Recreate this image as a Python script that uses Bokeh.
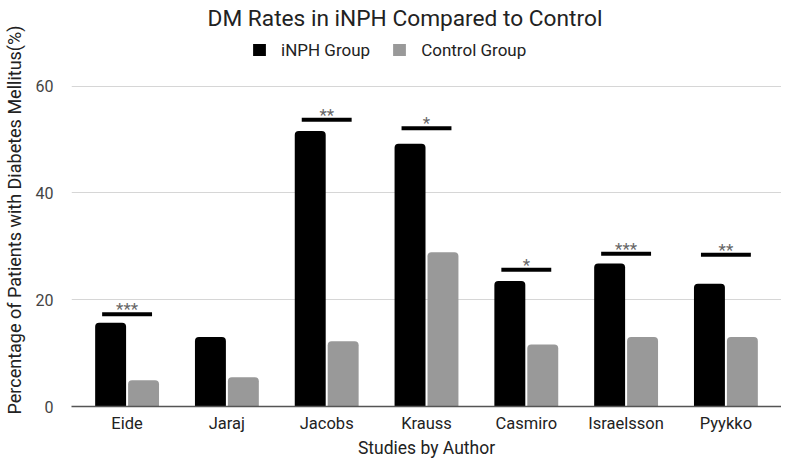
from bokeh.plotting import figure
from bokeh.models import (FactorRange, Range1d, Legend, LegendItem, ColumnDataSource, FixedTicker)
from bokeh.transform import dodge
from bokeh.core.properties import value
from bokeh.embed import file_html
from bokeh.resources import INLINE

# ---- data ----
authors = ["Eide", "Jaraj", "Jacobs", "Krauss", "Casmiro", "Israelsson", "Pyykko"]
inph_rates = [15.7, 13.0, 51.6, 49.2, 23.5, 26.8, 23.0]
control_rates = [4.9, 5.5, 12.2, 28.9, 11.6, 13.0, 13.0]
sig_authors = ["Eide", "Jacobs", "Krauss", "Casmiro", "Israelsson", "Pyykko"]
sig_level = [17.3, 53.7, 52.1, 25.6, 28.6, 28.4]
sig_marks = ["***", "**", "*", "*", "***", "**"]
y_ticks = [0, 20, 40, 60]

FONT = "Roboto"

src = ColumnDataSource(dict(author=authors, inph=inph_rates, control=control_rates))
sig_src = ColumnDataSource(dict(author=sig_authors, level=sig_level, mark=sig_marks))

p = figure(
    width=781, height=460,
    x_range=FactorRange(factors=authors, range_padding=0.057, range_padding_units="absolute"),
    y_range=Range1d(0, 69.86),
    output_backend="svg", toolbar_location=None,
    min_border_left=0, min_border_right=0, min_border_top=0, min_border_bottom=0,
)
p.outline_line_color = None
p.background_fill_color = "white"

r1 = p.vbar(x=dodge("author", -0.165, range=p.x_range), top="inph", width=0.31, source=src,
            fill_color="#000000", line_color=None, border_radius=(4, 4, 0, 0))
r2 = p.vbar(x=dodge("author", 0.165, range=p.x_range), top="control", width=0.31, source=src,
            fill_color="#999999", line_color=None, border_radius=(4, 4, 0, 0))

p.segment(x0=dodge("author", -0.25, range=p.x_range), x1=dodge("author", 0.25, range=p.x_range),
          y0="level", y1="level", source=sig_src, line_width=4, line_color="#000000")
p.text(x="author", y="level", text="mark", source=sig_src, text_align="center",
       text_baseline="alphabetic", y_offset=-5, text_font=value(FONT), text_font_size="17px",
       text_color="#666666")

# title
p.title.text = "DM Rates in iNPH Compared to Control"
p.title.align = "left"
p.title.offset = 136
p.title.text_font = FONT
p.title.text_font_size = "22.7px"
p.title.text_font_style = "normal"
p.title.text_color = "#222222"
p.title.standoff = 4

# legend (inside the frame, above the 60 line)
legend = Legend(items=[LegendItem(label="iNPH Group", renderers=[r1]),
                       LegendItem(label="Control Group", renderers=[r2])],
                orientation="horizontal", location=(180, 346.5),
                padding=0, margin=0, spacing=21, label_standoff=14,
                glyph_width=16, glyph_height=15, label_height=20,
                label_text_font=FONT, label_text_font_size="17px", label_text_color="#222222",
                border_line_color=None, background_fill_alpha=0)
p.add_layout(legend, "center")

# axes
xa = p.xaxis[0]
xa.axis_label = "Studies by Author"
xa.axis_label_text_font = FONT
xa.axis_label_text_font_size = "17.5px"
xa.axis_label_text_font_style = "normal"
xa.axis_label_text_color = "#222222"
xa.axis_label_standoff = 2
xa.major_label_text_font = FONT
xa.major_label_text_font_size = "16.5px"
xa.major_label_text_color = "#222222"
xa.major_label_standoff = 7
xa.major_tick_out = 0
xa.major_tick_in = 0
xa.minor_tick_out = 0
xa.major_tick_line_color = None
xa.minor_tick_line_color = None
xa.axis_line_color = "#555555"
xa.axis_line_width = 1.5

ya = p.yaxis[0]
ya.ticker = FixedTicker(ticks=y_ticks)
ya.axis_label = "Percentage of Patients with Diabetes Mellitus(%)"
ya.axis_label_text_font = FONT
ya.axis_label_text_font_size = "18px"
ya.axis_label_text_font_style = "normal"
ya.axis_label_text_color = "#222222"
ya.axis_label_standoff = 8
ya.major_label_text_font = FONT
ya.major_label_text_font_size = "16px"
ya.major_label_text_color = "#444444"
ya.major_label_standoff = 18
ya.major_tick_out = 0
ya.major_tick_in = 0
ya.minor_tick_out = 0
ya.major_tick_line_color = None
ya.minor_tick_line_color = None
ya.axis_line_color = None

p.xgrid.grid_line_color = None
p.ygrid.grid_line_color = "#d6d6d6"
p.ygrid.grid_line_width = 1
p.ygrid.ticker = FixedTicker(ticks=[20, 40, 60])

open("out.html", "w").write(file_html(p, INLINE))
